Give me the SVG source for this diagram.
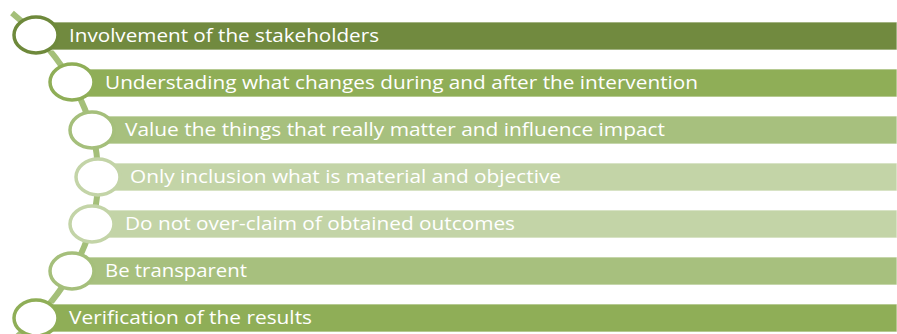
<svg xmlns="http://www.w3.org/2000/svg" width="897" height="334" viewBox="0 0 897 334">
  <style>
    .bar { stroke: #ffffff; stroke-width: 1; stroke-opacity: 0.7; }
    .ring { fill: #ffffff; stroke-width: 3.5; }
    .label { font-family: "Open Sans", "Noto Sans", "Liberation Sans", sans-serif; font-size: 18px; fill: #ffffff; }
    .spine { fill: none; stroke: #a4bf79; stroke-width: 6; stroke-linecap: butt; }
    .c1 { fill: #718a3f; } .s1 { stroke: #6e893b; }
    .c2 { fill: #8fae57; } .s2 { stroke: #8fae57; }
    .c3 { fill: #a7c07e; } .s3 { stroke: #a5bf7b; }
    .c4 { fill: #c3d4a7; } .s4 { stroke: #c3d4a7; }
  </style>
  <rect width="897" height="334" fill="#ffffff"/>

  <!-- curved spine linking the circles -->
  <g id="connectors">
    <path class="spine" d="M 12,13 A 351 250 0 0 1 12,341"/>
  </g>

  <g id="step1">
    <rect class="bar c1" x="36" y="22" width="861" height="28"/>
    <ellipse class="ring s1" cx="36" cy="35" rx="22" ry="18"/>
    <text class="label" x="69" y="42" textLength="310" lengthAdjust="spacingAndGlyphs">Involvement of the stakeholders</text>
  </g>

  <g id="step2">
    <rect class="bar c2" x="72" y="69" width="825" height="28"/>
    <ellipse class="ring s2" cx="72" cy="82" rx="22" ry="18"/>
    <text class="label" x="105" y="89" textLength="593" lengthAdjust="spacingAndGlyphs">Understading what changes during and after the intervention</text>
  </g>

  <g id="step3">
    <rect class="bar c3" x="92" y="116" width="805" height="28"/>
    <ellipse class="ring s3" cx="92" cy="130" rx="22" ry="18"/>
    <text class="label" x="125" y="136" textLength="540" lengthAdjust="spacingAndGlyphs">Value the things that really matter and influence impact</text>
  </g>

  <g id="step4">
    <rect class="bar c4" x="98" y="163" width="799" height="28"/>
    <ellipse class="ring s4" cx="98" cy="177" rx="22" ry="18"/>
    <text class="label" x="130" y="183" textLength="431" lengthAdjust="spacingAndGlyphs">Only inclusion what is material and objective</text>
  </g>

  <g id="step5">
    <rect class="bar c4" x="92" y="210" width="805" height="28"/>
    <ellipse class="ring s4" cx="92" cy="224" rx="22" ry="18"/>
    <text class="label" x="125" y="230" textLength="390" lengthAdjust="spacingAndGlyphs">Do not over-claim of obtained outcomes</text>
  </g>

  <g id="step6">
    <rect class="bar c3" x="72" y="257" width="825" height="28"/>
    <ellipse class="ring s3" cx="72" cy="271" rx="22" ry="18"/>
    <text class="label" x="105" y="277" textLength="142" lengthAdjust="spacingAndGlyphs">Be transparent</text>
  </g>

  <g id="step7">
    <rect class="bar c2" x="36" y="304" width="861" height="28"/>
    <ellipse class="ring s2" cx="36" cy="318" rx="22" ry="18"/>
    <text class="label" x="69" y="324" textLength="243" lengthAdjust="spacingAndGlyphs">Verification of the results</text>
  </g>
</svg>
